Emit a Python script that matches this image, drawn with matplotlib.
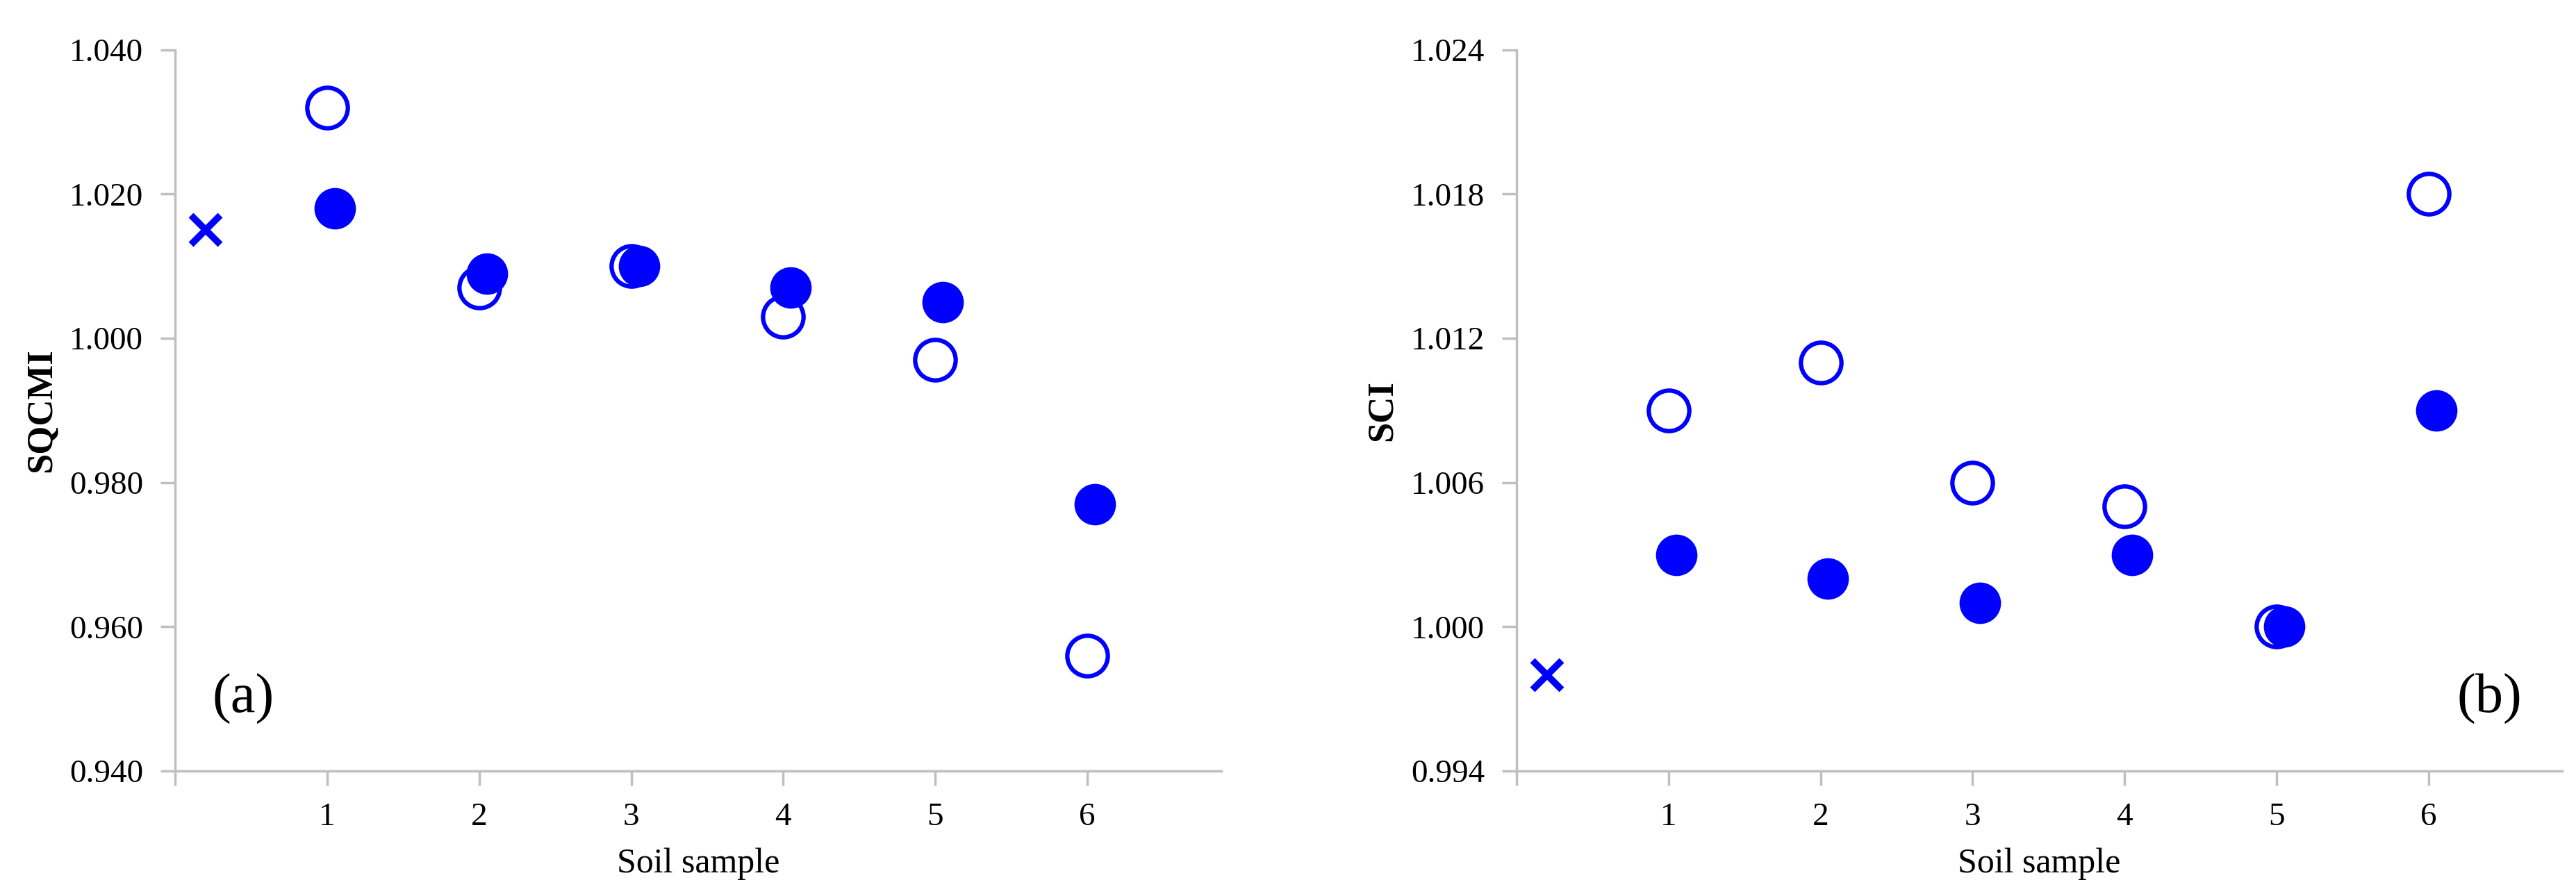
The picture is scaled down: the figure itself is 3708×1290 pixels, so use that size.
import matplotlib
matplotlib.use("Agg")
import matplotlib.pyplot as plt

# sample positions (filled series is nudged right a bit so the two don't fully overlap)
samples = [1, 2, 3, 4, 5, 6]
samples_shift = [1.05, 2.05, 3.05, 4.05, 5.05, 6.05]
ref_x = [0.2]

# panel (a) SQCMI
sqcmi_open = [1.032, 1.007, 1.010, 1.003, 0.997, 0.956]
sqcmi_fill = [1.018, 1.009, 1.010, 1.007, 1.005, 0.977]
sqcmi_ref = [1.015]
sqcmi_ticks = [0.940, 0.960, 0.980, 1.000, 1.020, 1.040]

# panel (b) SCI
sci_open = [1.009, 1.011, 1.006, 1.005, 1.000, 1.018]
sci_fill = [1.003, 1.002, 1.001, 1.003, 1.000, 1.009]
sci_ref = [0.998]
sci_ticks = [0.994, 1.000, 1.006, 1.012, 1.018, 1.024]

xtick_labels = ["1", "2", "3", "4", "5", "6"]

BLUE = "#0000FF"
GREY = "#BFBFBF"

plt.rcParams["font.family"] = ["Liberation Serif", "DejaVu Serif"]

fig = plt.figure(figsize=(37.08, 12.9), dpi=100)
ax1 = fig.add_axes([0.068, 0.1395, 0.406, 0.805])
ax2 = fig.add_axes([0.5887, 0.1395, 0.406, 0.805])


def draw_panel(ax, y_open, y_fill, y_ref, yticks, ylabel, tag, tag_x):
    ax.plot(samples, y_open, linestyle="none", marker="o", markersize=42,
            markerfacecolor="white", markeredgecolor=BLUE, markeredgewidth=4.5, zorder=3)
    ax.plot(samples_shift, y_fill, linestyle="none", marker="o", markersize=42,
            markerfacecolor=BLUE, markeredgecolor=BLUE, markeredgewidth=1, zorder=4)
    ax.plot(ref_x, y_ref, linestyle="none", marker="x", markersize=30,
            markeredgecolor=BLUE, markeredgewidth=7, zorder=3)

    ax.set_xlim(0, 6.88)
    ax.set_ylim(yticks[0], yticks[-1])
    ax.set_yticks(yticks)
    ax.set_yticklabels([f"{v:.3f}" for v in yticks])
    ax.set_xticks([0] + samples)
    ax.set_xticklabels([""] + xtick_labels)

    for s in ("top", "right"):
        ax.spines[s].set_visible(False)
    for s in ("left", "bottom"):
        ax.spines[s].set_color(GREY)
        ax.spines[s].set_linewidth(2.5)
    ax.tick_params(axis="both", direction="out", length=15, width=2.5, color=GREY,
                   labelsize=34, pad=18)

    ax.set_xlabel("Soil sample", fontsize=36, labelpad=16)
    ax.set_ylabel(ylabel, fontsize=38, fontweight="bold", labelpad=12)
    ax.text(tag_x, 0.10, tag, transform=ax.transAxes, fontsize=58,
            ha="center", va="center")


draw_panel(ax1, sqcmi_open, sqcmi_fill, sqcmi_ref, sqcmi_ticks, "SQCMI", "(a)", 0.065)
draw_panel(ax2, sci_open, sci_fill, sci_ref, sci_ticks, "SCI", "(b)", 0.93)

fig.savefig("out.png", dpi=100)
